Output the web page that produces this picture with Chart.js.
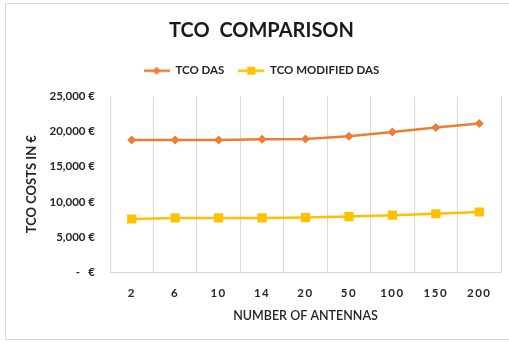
<!DOCTYPE html>
<html>
<head>
<meta charset="utf-8">
<script src="https://cdn.jsdelivr.net/npm/chart.js@4/dist/chart.umd.min.js"></script>
<style>
html,body{margin:0;padding:0;background:#fff;}
#wrap{width:509px;height:343px;position:relative;}
</style>
</head>
<body>
<div id="wrap"><canvas id="c" width="509" height="343"></canvas></div>
<script>
const categories = ['2', '6', '10', '14', '20', '50', '100', '150', '200'];
const tcoDas = [18800, 18800, 18800, 18900, 18950, 19350, 19950, 20600, 21150];
const tcoModifiedDas = [7550, 7700, 7700, 7700, 7750, 7900, 8100, 8300, 8550];
const seriesNames = ['TCO DAS', 'TCO MODIFIED DAS'];
const yTicks = [0, 5000, 10000, 15000, 20000, 25000];

const ORANGE = '#ED7D31';
const YELLOW = '#FFC000';
const FONT = 'Lato, "Open Sans", "Liberation Sans", sans-serif';

function legendIcon(color, shape) {
  const cv = document.createElement('canvas');
  cv.width = 26; cv.height = 12;
  const g = cv.getContext('2d');
  g.strokeStyle = color; g.lineWidth = 2.5;
  g.beginPath(); g.moveTo(0, 6); g.lineTo(26, 6); g.stroke();
  g.fillStyle = color;
  if (shape === 'diamond') {
    g.beginPath(); g.moveTo(13, 2); g.lineTo(17, 6); g.lineTo(13, 10); g.lineTo(9, 6); g.closePath(); g.fill();
  } else {
    g.fillRect(9, 2, 8, 8);
  }
  return cv;
}
const icons = [legendIcon(ORANGE, 'diamond'), legendIcon(YELLOW, 'square')];

const borderPlugin = {
  id: 'outerBorder',
  beforeDraw(chart) {
    const ctx = chart.ctx;
    ctx.save();
    ctx.fillStyle = '#fff';
    ctx.fillRect(0, 0, chart.width, chart.height);
    ctx.strokeStyle = '#d9d9d9';
    ctx.lineWidth = 1;
    ctx.strokeRect(5.5, 3.5, 530, 336);
    ctx.restore();
  }
};

const legendSpacer = {
  id: 'legendSpacer',
  beforeInit(chart) {
    const orig = chart.legend.fit;
    chart.legend.fit = function () {
      orig.bind(chart.legend)();
      this.height += 10;
    };
  }
};

// spaced-out x tick labels like the original
const xTracking = {
  id: 'xTracking',
  afterUpdate(chart) {
    const sx = chart.scales.x;
    if (sx && !sx._tracked) {
      const orig = sx.drawLabels.bind(sx);
      sx.drawLabels = function (area) {
        const ctx = this.ctx;
        ctx.save();
        if ('letterSpacing' in ctx) ctx.letterSpacing = '1.5px';
        orig(area);
        ctx.restore();
      };
      sx._tracked = true;
    }
  }
};

new Chart(document.getElementById('c'), {
  type: 'line',
  data: {
    labels: categories,
    datasets: [
      {
        label: seriesNames[0],
        data: tcoDas,
        borderColor: ORANGE,
        backgroundColor: ORANGE,
        borderWidth: 2.5,
        pointStyle: 'rectRot',
        pointRadius: 4.5,
        pointHoverRadius: 4.5,
        pointBorderWidth: 0,
        tension: 0
      },
      {
        label: seriesNames[1],
        data: tcoModifiedDas,
        borderColor: YELLOW,
        backgroundColor: YELLOW,
        borderWidth: 2.5,
        pointStyle: 'rect',
        pointRadius: 6.5,
        pointHoverRadius: 6.5,
        pointBorderWidth: 0,
        tension: 0
      }
    ]
  },
  options: {
    responsive: false,
    animation: false,
    devicePixelRatio: 1,
    layout: { padding: { left: 22, right: 8, top: 0, bottom: 0 } },
    plugins: {
      tooltip: { enabled: false },
      title: {
        display: true,
        text: 'TCO  COMPARISON',
        color: '#1a1a1a',
        font: { family: FONT, size: 20, weight: 'bold' },
        padding: { top: 19, bottom: 8 }
      },
      legend: {
        display: true,
        position: 'top',
        labels: {
          usePointStyle: true,
          pointStyleWidth: 26,
          boxHeight: 10,
          padding: 14,
          color: '#262626',
          font: { family: FONT, size: 11.5, weight: 'bold' },
          generateLabels(chart) {
            const items = Chart.defaults.plugins.legend.labels.generateLabels(chart);
            items.forEach((it, i) => { it.pointStyle = icons[i]; });
            return items;
          }
        }
      }
    },
    scales: {
      x: {
        type: 'category',
        offset: true,
        grid: { display: true, offset: true, color: '#d9d9d9', lineWidth: 1, drawTicks: false },
        border: { display: true, color: '#d9d9d9', width: 1 },
        ticks: {
          color: '#262626',
          padding: 14,
          font: { family: FONT, size: 11.5, weight: 'bold' },
          maxRotation: 0
        },
        title: {
          display: true,
          text: 'NUMBER OF ANTENNAS',
          color: '#262626',
          font: { family: FONT, size: 12.5, weight: '600' },
          padding: { top: 4, bottom: 20 }
        },
        afterFit(scale) { scale.height = 71; }
      },
      y: {
        min: 0,
        max: 25000,
        grid: { display: false, drawTicks: false },
        border: { display: true, color: '#d9d9d9', width: 1 },
        afterBuildTicks(scale) { scale.ticks = yTicks.map(v => ({ value: v })); },
        ticks: {
          color: '#262626',
          padding: 15,
          font: { family: FONT, size: 11.5, weight: 'bold' },
          callback(v) { return v === 0 ? '-   €' : Number(v).toLocaleString('en-US') + ' €'; }
        },
        title: {
          display: true,
          text: 'TCO COSTS IN €',
          color: '#262626',
          font: { family: FONT, size: 13, weight: 'bold' },
          padding: { top: 2, bottom: 0 }
        },
        afterFit(scale) { scale.width = 88; }
      }
    }
  },
  plugins: [borderPlugin, legendSpacer, xTracking]
});
</script>
</body>
</html>
